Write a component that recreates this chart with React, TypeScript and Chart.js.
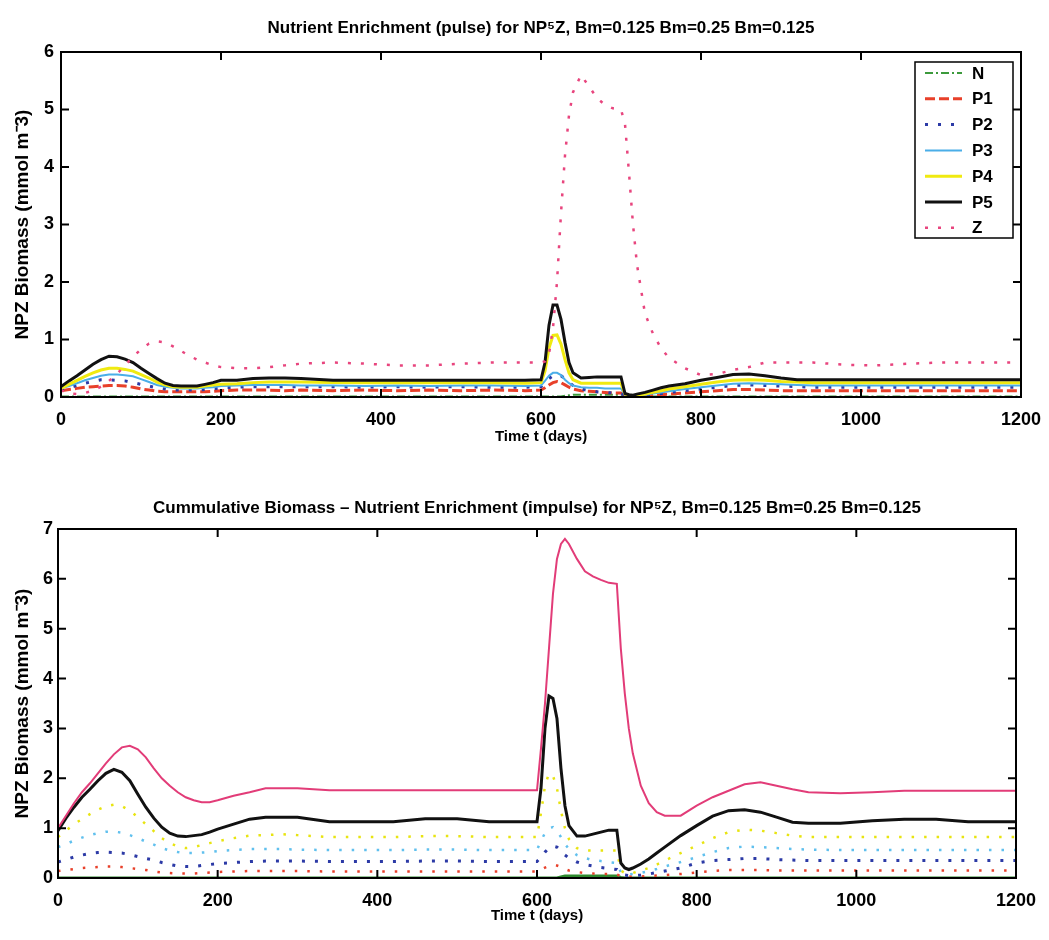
import React, { useEffect, useRef } from "react";
import { Chart, registerables } from "chart.js";

Chart.register(...registerables);

// ---------- data ----------
const days = [
  0, 10, 20, 30, 40, 50, 60, 70, 80, 90, 100, 110, 120, 130, 140, 150, 160, 170, 180, 190, 200,
  220, 240, 260, 280, 300, 340, 380, 420, 460, 500, 540, 580,
  600, 605, 610, 615, 620, 625, 630, 635, 640, 650, 660, 670, 680, 690, 700,
  705, 710, 715, 720, 730, 740, 750, 760, 780, 800, 820, 840, 860, 880, 900, 920, 940,
  980, 1020, 1060, 1100, 1140, 1200,
];

const seriesNames = ["N", "P1", "P2", "P3", "P4", "P5", "Z"];

const topTitle = "Nutrient Enrichment (pulse) for NP\u2075Z, Bm=0.125 Bm=0.25 Bm=0.125";
const bottomTitle = "Cummulative Biomass \u2013 Nutrient Enrichment (impulse) for NP\u2075Z, Bm=0.125 Bm=0.25 Bm=0.125";
const xLabel = "Time t (days)";
const yLabel = "NPZ Biomass (mmol m\u207B3)";
const xTickStep = 200;
const topYMax = 6;
const bottomYMax = 7;

// top panel: individual biomass
const pulseN = [
  0.01, 0.01, 0.01, 0.01, 0.01, 0.01, 0.01, 0.01, 0.01, 0.01, 0.01, 0.01, 0.01, 0.01, 0.01, 0.01, 0.01, 0.01, 0.01, 0.01, 0.01,
  0.01, 0.01, 0.01, 0.01, 0.01, 0.01, 0.01, 0.01, 0.01, 0.01, 0.01, 0.01,
  0.01, 0.01, 0.01, 0.01, 0.01, 0.01, 0.02, 0.03, 0.04, 0.04, 0.04, 0.04, 0.04, 0.04, 0.04,
  0.01, 0.01, 0.01, 0.01, 0.01, 0.01, 0.01, 0.01, 0.01, 0.01, 0.01, 0.01, 0.01, 0.01, 0.01, 0.01, 0.01,
  0.01, 0.01, 0.01, 0.01, 0.01, 0.01,
];
const pulseP1 = [
  0.11, 0.13, 0.15, 0.17, 0.18, 0.19, 0.2, 0.2, 0.19, 0.17, 0.14, 0.12, 0.1, 0.09, 0.09, 0.09, 0.09, 0.09, 0.09, 0.1, 0.11,
  0.12, 0.12, 0.12, 0.11, 0.12, 0.11, 0.12, 0.11, 0.12, 0.11, 0.12, 0.11,
  0.12, 0.16, 0.21, 0.25, 0.27, 0.25, 0.21, 0.17, 0.14, 0.11, 0.1, 0.09, 0.08, 0.07, 0.07,
  0.03, 0.02, 0.02, 0.02, 0.02, 0.03, 0.04, 0.05, 0.07, 0.09, 0.11, 0.13, 0.13, 0.12, 0.11, 0.11, 0.11,
  0.11, 0.11, 0.11, 0.11, 0.11, 0.11,
];
const pulseP2 = [
  0.12, 0.16, 0.2, 0.24, 0.27, 0.3, 0.3, 0.29, 0.28, 0.25, 0.22, 0.19, 0.16, 0.14, 0.12, 0.12, 0.12, 0.12, 0.13, 0.14, 0.16,
  0.17, 0.18, 0.18, 0.18, 0.18, 0.18, 0.17, 0.18, 0.17, 0.18, 0.17, 0.17,
  0.18, 0.25, 0.32, 0.37, 0.39, 0.37, 0.32, 0.25, 0.2, 0.14, 0.11, 0.09, 0.08, 0.07, 0.06,
  0.03, 0.02, 0.02, 0.02, 0.03, 0.04, 0.06, 0.08, 0.11, 0.14, 0.17, 0.2, 0.21, 0.2, 0.19, 0.18, 0.17,
  0.17, 0.17, 0.17, 0.17, 0.17, 0.17,
];
const pulseP3 = [
  0.15, 0.19, 0.24, 0.29, 0.33, 0.37, 0.39, 0.39, 0.38, 0.36, 0.31, 0.26, 0.21, 0.18, 0.16, 0.15, 0.15, 0.15, 0.16, 0.17, 0.19,
  0.2, 0.21, 0.21, 0.21, 0.2, 0.2, 0.19, 0.2, 0.19, 0.2, 0.2, 0.19,
  0.2, 0.28, 0.37, 0.42, 0.42, 0.38, 0.3, 0.24, 0.2, 0.17, 0.16, 0.16, 0.15, 0.15, 0.15,
  0.04, 0.03, 0.02, 0.03, 0.04, 0.06, 0.08, 0.1, 0.14, 0.17, 0.2, 0.23, 0.24, 0.23, 0.22, 0.21, 0.2,
  0.2, 0.2, 0.2, 0.2, 0.2, 0.2,
];
const pulseP4 = [
  0.15, 0.22, 0.29, 0.36, 0.42, 0.47, 0.5, 0.5, 0.48, 0.45, 0.39, 0.33, 0.26, 0.21, 0.18, 0.17, 0.17, 0.17, 0.19, 0.21, 0.22,
  0.23, 0.25, 0.26, 0.26, 0.26, 0.25, 0.25, 0.25, 0.25, 0.25, 0.25, 0.24,
  0.25, 0.45, 0.85, 1.07, 1.08, 0.92, 0.65, 0.42, 0.3, 0.24, 0.24, 0.24, 0.24, 0.24, 0.24,
  0.05, 0.03, 0.02, 0.03, 0.05, 0.08, 0.11, 0.14, 0.18, 0.22, 0.26, 0.29, 0.3, 0.29, 0.27, 0.26, 0.25,
  0.25, 0.25, 0.25, 0.25, 0.25, 0.25,
];
const pulseP5 = [
  0.18, 0.28, 0.37, 0.47, 0.57, 0.65, 0.71, 0.7, 0.66, 0.6, 0.5, 0.41, 0.32, 0.24, 0.2, 0.19, 0.19, 0.19, 0.22, 0.25, 0.29,
  0.29, 0.32, 0.33, 0.33, 0.32, 0.29, 0.29, 0.29, 0.29, 0.29, 0.29, 0.29,
  0.3, 0.6, 1.25, 1.6, 1.6, 1.35, 0.95, 0.6, 0.42, 0.33, 0.34, 0.35, 0.35, 0.35, 0.35,
  0.06, 0.04, 0.03, 0.05, 0.08, 0.12, 0.16, 0.19, 0.23, 0.29, 0.34, 0.39, 0.4, 0.37, 0.33, 0.3, 0.3,
  0.3, 0.3, 0.3, 0.3, 0.3, 0.3,
];
const pulseZ = [
  0.12, 0.06, 0.05, 0.07, 0.11, 0.18, 0.28, 0.4, 0.55, 0.7, 0.83, 0.93, 0.97, 0.95, 0.88, 0.8, 0.72, 0.65, 0.6, 0.55, 0.52,
  0.5, 0.5, 0.52, 0.55, 0.58, 0.6, 0.58, 0.55, 0.55, 0.58, 0.6, 0.6,
  0.6, 0.62, 0.75, 1.2, 2.0, 3.2, 4.2, 4.9, 5.3, 5.6, 5.4, 5.2, 5.08, 5.02, 5.0,
  4.75, 3.9, 3.0, 2.3, 1.45, 1.1, 0.85, 0.68, 0.5, 0.38, 0.4, 0.47, 0.52, 0.6, 0.6, 0.6, 0.6,
  0.56, 0.55, 0.58, 0.6, 0.6, 0.6,
];

// bottom panel: cumulative biomass
const cumN = [
  0, 0, 0, 0, 0, 0, 0, 0, 0, 0, 0, 0, 0, 0, 0, 0, 0, 0, 0, 0, 0,
  0, 0, 0, 0, 0, 0, 0, 0, 0, 0, 0, 0,
  0, 0, 0, 0, 0, 0, 0.02, 0.04, 0.04, 0.04, 0.04, 0.04, 0.04, 0.04, 0.04,
  0.01, 0, 0, 0, 0, 0, 0, 0, 0, 0, 0, 0, 0, 0, 0, 0, 0,
  0, 0, 0, 0, 0, 0,
];
const cumP1 = [
  0.14, 0.16, 0.18, 0.2, 0.21, 0.22, 0.23, 0.23, 0.22, 0.2, 0.18, 0.16, 0.13, 0.11, 0.1, 0.09, 0.09, 0.09, 0.1, 0.11, 0.12,
  0.13, 0.14, 0.14, 0.14, 0.14, 0.13, 0.13, 0.13, 0.13, 0.13, 0.13, 0.13,
  0.13, 0.17, 0.21, 0.24, 0.26, 0.25, 0.22, 0.18, 0.15, 0.12, 0.1, 0.09, 0.08, 0.08, 0.07,
  0.04, 0.03, 0.03, 0.03, 0.03, 0.04, 0.05, 0.06, 0.08, 0.11, 0.14, 0.16, 0.16, 0.16, 0.15, 0.15, 0.15,
  0.15, 0.15, 0.15, 0.15, 0.15, 0.15,
];
const cumP2 = [
  0.32, 0.37, 0.42, 0.46, 0.49, 0.51, 0.52, 0.51, 0.5, 0.47, 0.43, 0.39, 0.36, 0.31, 0.27, 0.24, 0.23, 0.23, 0.25, 0.27, 0.29,
  0.31, 0.33, 0.34, 0.34, 0.34, 0.33, 0.33, 0.33, 0.34, 0.34, 0.33, 0.33,
  0.33, 0.42, 0.52, 0.6, 0.64, 0.62, 0.55, 0.46, 0.4, 0.32, 0.27, 0.24, 0.21, 0.19, 0.17,
  0.08, 0.06, 0.05, 0.05, 0.06, 0.08, 0.11, 0.14, 0.2, 0.3, 0.35, 0.37, 0.39, 0.39, 0.37, 0.36, 0.35,
  0.35, 0.35, 0.35, 0.35, 0.35, 0.35,
];
const cumP3 = [
  0.62, 0.68, 0.75, 0.81, 0.86, 0.9, 0.93, 0.93, 0.91, 0.86, 0.8, 0.73, 0.67, 0.6, 0.55, 0.52, 0.5, 0.5, 0.51, 0.52, 0.54,
  0.56, 0.58, 0.58, 0.58, 0.57, 0.56, 0.56, 0.56, 0.57, 0.57, 0.56, 0.56,
  0.56, 0.75, 0.9, 1.0, 1.02, 0.95, 0.82, 0.68, 0.58, 0.46, 0.4, 0.36, 0.34, 0.32, 0.3,
  0.12, 0.08, 0.07, 0.08, 0.1, 0.14, 0.18, 0.23, 0.32, 0.42, 0.52, 0.6, 0.63, 0.62, 0.6, 0.58, 0.57,
  0.56, 0.56, 0.56, 0.56, 0.56, 0.56,
];
const cumP4 = [
  0.82, 0.95, 1.08, 1.18, 1.28, 1.37, 1.44, 1.47, 1.44, 1.35, 1.22, 1.08, 0.94, 0.8, 0.7, 0.63, 0.6, 0.62, 0.66, 0.7, 0.74,
  0.8, 0.85, 0.86, 0.88, 0.86, 0.82, 0.82, 0.82, 0.84, 0.84, 0.82, 0.82,
  0.82, 1.3, 1.85, 2.1, 2.05, 1.8, 1.35, 1.0, 0.78, 0.6, 0.55, 0.55, 0.55, 0.55, 0.55,
  0.15, 0.1, 0.08, 0.1, 0.15, 0.2, 0.27, 0.35, 0.5, 0.65, 0.8, 0.92, 0.97, 0.95, 0.9, 0.85, 0.82,
  0.82, 0.82, 0.82, 0.82, 0.82, 0.82,
];
const cumP5 = [
  0.95, 1.2, 1.42, 1.62, 1.78, 1.95, 2.1, 2.18, 2.12, 1.95, 1.68, 1.42, 1.2, 1.02, 0.9, 0.84, 0.83, 0.85, 0.87, 0.92, 0.98,
  1.08, 1.18, 1.22, 1.22, 1.22, 1.13, 1.13, 1.13, 1.19, 1.19, 1.13, 1.13,
  1.13, 1.8, 3.0, 3.65, 3.6, 3.2, 2.2, 1.45, 1.05, 0.84, 0.84, 0.88, 0.92, 0.96, 0.96,
  0.3, 0.2, 0.17, 0.2, 0.28, 0.38, 0.5, 0.62, 0.85, 1.05, 1.24, 1.35, 1.37, 1.32, 1.22, 1.12, 1.1,
  1.1, 1.15, 1.18, 1.18, 1.13, 1.13,
];
const cumZ = [
  1.0, 1.25, 1.5, 1.72, 1.9, 2.1, 2.3, 2.48, 2.62, 2.65, 2.58, 2.42, 2.2, 2.0, 1.85, 1.72, 1.62, 1.56, 1.52, 1.52, 1.56,
  1.65, 1.72, 1.8, 1.8, 1.8, 1.76, 1.76, 1.76, 1.76, 1.76, 1.76, 1.76,
  1.76, 2.6, 3.5, 4.6, 5.7, 6.4, 6.7, 6.8, 6.7, 6.4, 6.15, 6.05, 5.98, 5.92, 5.9,
  4.6, 3.7, 3.0, 2.5, 1.85, 1.5, 1.32, 1.25, 1.25, 1.45, 1.62, 1.75, 1.88, 1.92, 1.85, 1.78, 1.72,
  1.7, 1.72, 1.75, 1.75, 1.75, 1.75,
];

// ---------- styles ----------
const FONT = "'Liberation Sans', Arial, sans-serif";

const topStyles = [
  { color: "#3c9a3c", dash: [8, 3, 2, 3], width: 2 },
  { color: "#e8402a", dash: [10, 4], width: 3 },
  { color: "#2c3aa6", dash: [3, 10], width: 3 },
  { color: "#4aaee8", dash: [], width: 2 },
  { color: "#f0ea10", dash: [], width: 3 },
  { color: "#111111", dash: [], width: 3 },
  { color: "#e8457e", dash: [3, 10], width: 2.5 },
];
const bottomStyles = [
  { color: "#2e8a2e", dash: [], width: 3 },
  { color: "#e8402a", dash: [2.5, 10], width: 2.5 },
  { color: "#2c3aa6", dash: [3, 10], width: 3 },
  { color: "#60c0ee", dash: [2.5, 10], width: 2.5 },
  { color: "#e8e410", dash: [2.5, 10], width: 2.5 },
  { color: "#111111", dash: [], width: 3 },
  { color: "#e23c78", dash: [], width: 2 },
];

const topSeries = [pulseN, pulseP1, pulseP2, pulseP3, pulseP4, pulseP5, pulseZ];
const bottomSeries = [cumN, cumP1, cumP2, cumP3, cumP4, cumP5, cumZ];

const framePlugin = {
  id: "frameTicks",
  afterDatasetsDraw(chart: any, _args: any, opts: any) {
    const { ctx, chartArea: a, scales } = chart;
    ctx.save();
    ctx.strokeStyle = "#000";
    ctx.lineWidth = 2;
    ctx.setLineDash([]);
    ctx.strokeRect(a.left, a.top, a.right - a.left, a.bottom - a.top);
    const tl = 8;
    ctx.beginPath();
    scales.x.ticks.forEach((t: any) => {
      const px = scales.x.getPixelForValue(t.value);
      ctx.moveTo(px, a.bottom);
      ctx.lineTo(px, a.bottom - tl);
      ctx.moveTo(px, a.top);
      ctx.lineTo(px, a.top + tl);
    });
    scales.y.ticks.forEach((t: any) => {
      const py = scales.y.getPixelForValue(t.value);
      ctx.moveTo(a.left, py);
      ctx.lineTo(a.left + tl, py);
      ctx.moveTo(a.right, py);
      ctx.lineTo(a.right - tl, py);
    });
    ctx.stroke();

    if (opts && opts.legend) {
      const bw = 98;
      const bh = 176;
      const bx = a.right - 8 - bw;
      const by = a.top + 10;
      ctx.fillStyle = "#fff";
      ctx.fillRect(bx, by, bw, bh);
      ctx.lineWidth = 1.5;
      ctx.strokeStyle = "#000";
      ctx.strokeRect(bx, by, bw, bh);
      ctx.font = `bold 17px ${FONT}`;
      ctx.textBaseline = "middle";
      ctx.textAlign = "left";
      chart.data.datasets.forEach((ds: any, i: number) => {
        const y = by + 11 + i * 25.8;
        ctx.beginPath();
        ctx.strokeStyle = ds.borderColor;
        ctx.lineWidth = ds.borderWidth;
        ctx.setLineDash(ds.borderDash || []);
        ctx.moveTo(bx + 10, y);
        ctx.lineTo(bx + 47, y);
        ctx.stroke();
        ctx.setLineDash([]);
        ctx.fillStyle = "#000";
        ctx.fillText(ds.label, bx + 57, y + 1);
      });
    }
    ctx.restore();
  },
};

type PanelProps = {
  title: string;
  series: number[][];
  styles: { color: string; dash: number[]; width: number }[];
  yMax: number;
  legend: boolean;
  plotLeft: number;
  plotRight: number;
  plotBottom: number;
  titlePad: { top: number; bottom: number };
  xTitlePad: number;
  yTickPad: number;
  top: number;
};

function Panel(p: PanelProps) {
  const ref = useRef<HTMLCanvasElement | null>(null);
  useEffect(() => {
    if (!ref.current) return;
    const W = 1049;
    const H = 470;
    const datasets = p.series.map((vals, i) => ({
      label: seriesNames[i],
      data: days.map((d, j) => ({ x: d, y: vals[j] })),
      borderColor: p.styles[i].color,
      backgroundColor: p.styles[i].color,
      borderDash: p.styles[i].dash,
      borderWidth: p.styles[i].width,
      pointRadius: 0,
      tension: 0,
      fill: false,
      order: seriesNames.length - i,
    }));
    const chart = new Chart(ref.current, {
      type: "line",
      data: { datasets },
      options: {
        animation: false,
        responsive: false,
        maintainAspectRatio: false,
        layout: { padding: { left: 0, right: W - p.plotRight, top: 0, bottom: 0 } },
        scales: {
          x: {
            type: "linear",
            min: 0,
            max: 1200,
            grid: { display: false, drawTicks: false },
            border: { display: false },
            ticks: {
              stepSize: xTickStep,
              color: "#000",
              padding: 12,
              maxRotation: 0,
              font: { family: FONT, size: 18, weight: "bold" },
              callback: (v: any) => String(v),
            },
            title: {
              display: true,
              text: xLabel,
              color: "#000",
              padding: { top: 0, bottom: p.xTitlePad },
              font: { family: FONT, size: 15, weight: "bold" },
            },
            afterFit: (s: any) => {
              s.height = H - p.plotBottom;
              s.paddingLeft = 0;
              s.paddingRight = 0;
            },
          },
          y: {
            type: "linear",
            min: 0,
            max: p.yMax,
            grid: { display: false, drawTicks: false },
            border: { display: false },
            ticks: {
              stepSize: 1,
              color: "#000",
              padding: p.yTickPad,
              font: { family: FONT, size: 18, weight: "bold" },
              callback: (v: any) => String(v),
            },
            title: {
              display: true,
              text: yLabel,
              color: "#000",
              padding: { top: 11, bottom: 0 },
              font: { family: FONT, size: 19, weight: "bold" },
            },
            afterFit: (s: any) => {
              s.width = p.plotLeft;
              s.paddingTop = 0;
              s.paddingBottom = 0;
            },
          },
        },
        plugins: {
          legend: { display: false },
          tooltip: { enabled: false },
          title: {
            display: true,
            fullSize: false,
            text: p.title,
            color: "#000",
            padding: p.titlePad,
            font: { family: FONT, size: 17, weight: "bold" },
          },
          frameTicks: { legend: p.legend },
        } as any,
      },
      plugins: [framePlugin],
    } as any);
    return () => chart.destroy();
  }, []);
  return (
    <canvas
      ref={ref}
      width={1049}
      height={470}
      style={{ position: "absolute", left: 0, top: p.top, width: 1049, height: 470 }}
    />
  );
}

export default function App() {
  return (
    <div style={{ position: "absolute", left: 0, top: 0, width: 1049, height: 940, background: "#fff" }}>
      <Panel
        title={topTitle}
        series={topSeries}
        styles={topStyles}
        yMax={topYMax}
        legend={true}
        plotLeft={61}
        plotRight={1021}
        plotBottom={397}
        titlePad={{ top: 18, bottom: 13.6 }}
        xTitlePad={24}
        yTickPad={7}
        top={0}
      />
      <Panel
        title={bottomTitle}
        series={bottomSeries}
        styles={bottomStyles}
        yMax={bottomYMax}
        legend={false}
        plotLeft={58}
        plotRight={1016}
        plotBottom={408}
        titlePad={{ top: 28, bottom: 10.6 }}
        xTitlePad={15}
        yTickPad={5}
        top={470}
      />
    </div>
  );
}
